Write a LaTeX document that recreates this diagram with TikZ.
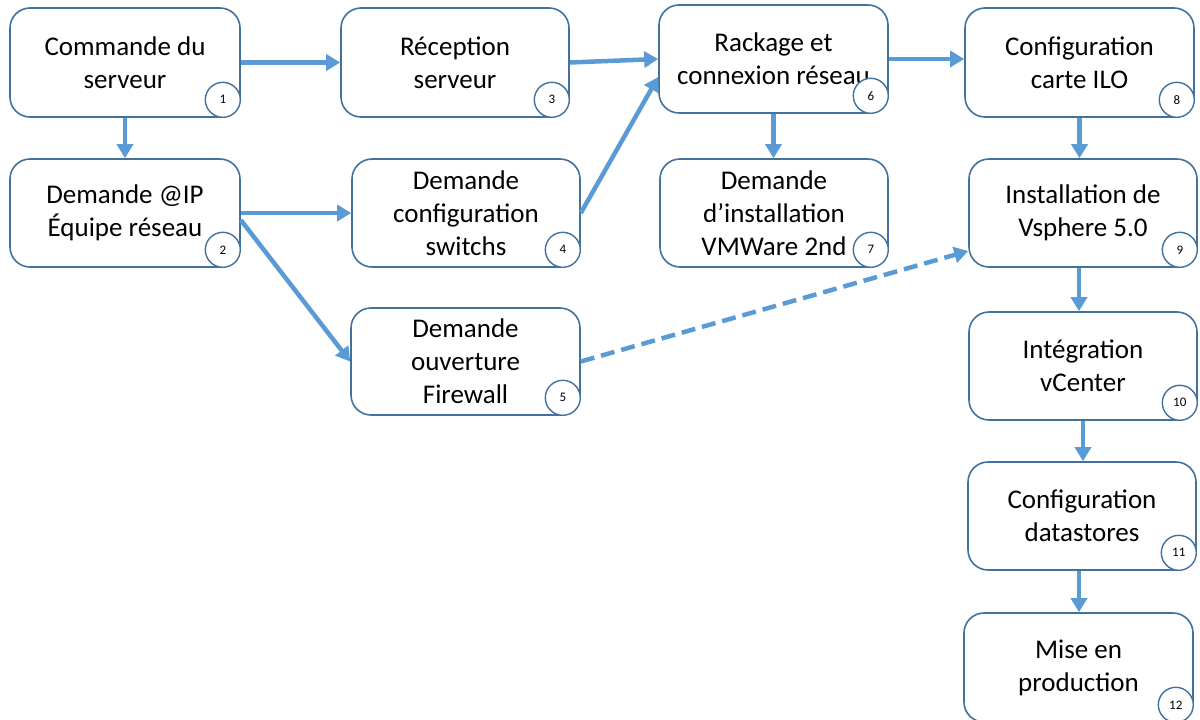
\documentclass[tikz,border=0pt]{standalone}
\usepackage{fontspec}
\setmainfont{Carlito}
\usetikzlibrary{arrows.meta,calc}
\definecolor{edgeblue}{HTML}{41719C}
\definecolor{arrblue}{HTML}{5B9BD5}
\begin{document}
\begin{tikzpicture}[x=1pt,y=-1pt,
 box/.style={draw=edgeblue,line width=1.6pt,rounded corners=20pt,fill=white,align=center,inner sep=0pt,font=\fontsize{27}{33}\selectfont},
 num/.style={draw=edgeblue,line width=1.4pt,circle,fill=white,minimum size=35pt,inner sep=0pt,font=\fontsize{13}{15}\selectfont},
 flow/.style={draw=arrblue,line width=4.5pt,-{Triangle[length=14pt,width=16pt]}},
 dflow/.style={flow,dash pattern=on 14pt off 7pt},
]
\useasboundingbox (0,0) rectangle (1200,720);
\begin{scope}
\clip (0,0) rectangle (1200,720);
\node[box,minimum width=230,minimum height=109] (b1) at (125,62.5) {Commande du\\serveur};
\node[box,minimum width=230,minimum height=108] (b2) at (125,213) {Demande @IP\\Équipe réseau};
\node[box,minimum width=228,minimum height=109] (b3) at (455,62.5) {Réception\\serveur};
\node[box,minimum width=228,minimum height=108] (b4) at (466,213) {Demande\\configuration\\switchs};
\node[box,minimum width=229,minimum height=107] (b5) at (465.5,361.5) {Demande\\ouverture\\Firewall};
\node[box,minimum width=229,minimum height=108] (b6) at (773.5,59) {Rackage et\\connexion réseau};
\node[box,minimum width=228,minimum height=108] (b7) at (774,213) {Demande\\d’installation\\VMWare 2nd};
\node[box,minimum width=229,minimum height=109] (b8) at (1079.5,62.5) {Configuration\\carte ILO};
\node[box,minimum width=228,minimum height=108] (b9) at (1083,213) {Installation de\\Vsphere 5.0};
\node[box,minimum width=228,minimum height=108] (b10) at (1083,366) {Intégration\\vCenter};
\node[box,minimum width=228,minimum height=108] (b11) at (1082,516) {Configuration\\datastores};
\node[box,minimum width=229,minimum height=109] (b12) at (1078.5,667.5) {Mise en\\production};

\foreach \i in {1,...,12}{
  \node[num] (n\i) at ($(b\i.south east)+(-18,-18)$) {\i};
}

\draw[flow] (b1.east) -- (b3.west);
\draw[flow] (b3.east) -- (b6.west);
\draw[flow] (b4.east) -- ($(b6.west)+(0,18)$);
\draw[flow] (b6.east) -- (b6.east -| b8.west);
\draw[flow] (b1.south) -- (b1.south |- b2.north);
\draw[flow] (b2.east) -- (b4.west);
\draw[flow] ($(b2.east)+(0,7)$) -- (b5.west);
\draw[flow] (b6.south) -- (b6.south |- b7.north);
\draw[flow] (b8.south) -- (b8.south |- b9.north);
\draw[dflow] (b5.east) -- ($(b9.west)+(0,38)$);
\coordinate (c9) at ($(b9.south)+(-4,0)$);
\draw[flow] (c9) -- (c9 |- b10.north);
\draw[flow] (b10.south) -- (b10.south |- b11.north);
\coordinate (c11) at ($(b11.south)+(-3,0)$);
\draw[flow] (c11) -- (c11 |- b12.north);
\end{scope}
\end{tikzpicture}
\end{document}
